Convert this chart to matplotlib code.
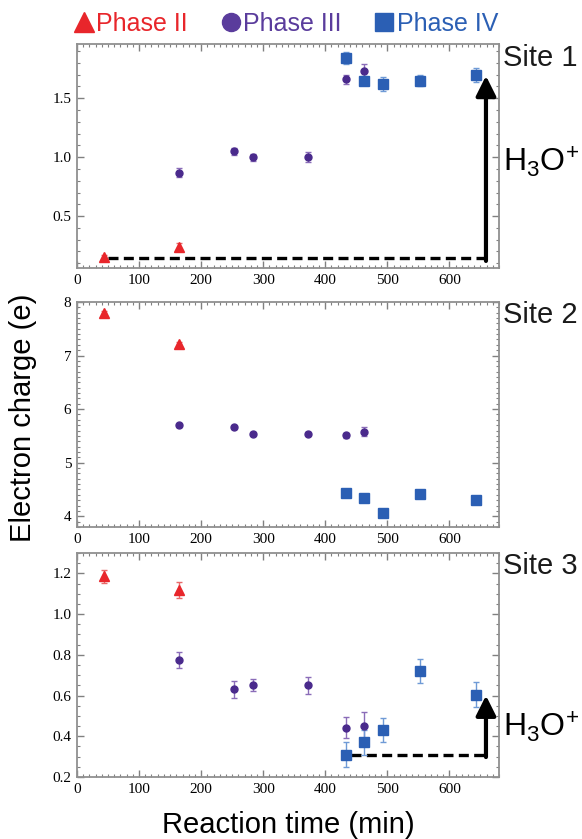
import matplotlib
matplotlib.use("Agg")
import matplotlib.pyplot as plt
from matplotlib.lines import Line2D
from matplotlib.ticker import MultipleLocator, FormatStrFormatter

plt.rcParams['font.family'] = ['Liberation Sans', 'DejaVu Sans']
plt.rcParams['mathtext.fontset'] = 'custom'
plt.rcParams['mathtext.rm'] = 'Liberation Sans'
plt.rcParams['mathtext.it'] = 'Liberation Sans:italic'

# ---- data ----
t_p2 = [44, 165]
t_p3 = [165, 253, 283, 373, 433, 463]
t_p4 = [433, 463, 493, 553, 643]

s1_p2 = [0.15, 0.24]
s1_p2_err = [0.02, 0.03]
s1_p3 = [0.87, 1.05, 1.00, 1.00, 1.66, 1.73]
s1_p3_err = [0.04, 0.03, 0.03, 0.04, 0.04, 0.06]
s1_p4 = [1.84, 1.65, 1.62, 1.65, 1.70]
s1_p4_err = [0.05, 0.04, 0.06, 0.05, 0.06]

s2_p2 = [7.80, 7.22]
s2_p2_err = [0.03, 0.03]
s2_p3 = [5.70, 5.66, 5.54, 5.54, 5.51, 5.58]
s2_p3_err = [0.03, 0.03, 0.03, 0.03, 0.04, 0.08]
s2_p4 = [4.44, 4.35, 4.07, 4.41, 4.31]
s2_p4_err = [0.03, 0.03, 0.03, 0.03, 0.03]

s3_p2 = [1.185, 1.12]
s3_p2_err = [0.03, 0.04]
s3_p3 = [0.775, 0.63, 0.65, 0.65, 0.443, 0.45]
s3_p3_err = [0.04, 0.04, 0.03, 0.04, 0.05, 0.07]
s3_p4 = [0.31, 0.37, 0.43, 0.72, 0.605]
s3_p4_err = [0.06, 0.06, 0.06, 0.06, 0.06]

site_labels = ["Site 1", "Site 2", "Site 3"]
phase_labels = ["Phase II", "Phase III", "Phase IV"]

RED = '#e8262b'
PUR = '#4a2a8c'
PUR_E = '#8a6cb8'
BLU = '#2b5fb4'
BLU_E = '#6f9ad6'
RED_E = '#e86a6a'

W, H = 582, 839
fig = plt.figure(figsize=(W / 100, H / 100), dpi=100)

boxes = [(44, 268), (302, 527), (553, 777)]
left, right = 77, 499
ylims = [(0.06, 1.96), (3.8, 8.0), (0.2, 1.3)]
ymaj = [0.5, 1.0, 0.2]
ymin = [0.1, 0.1, 0.05]
yfmt = ['%.1f', '%d', '%.1f']
site_y = [57.5, 315, 566]
data = [
    (s1_p2, s1_p2_err, s1_p3, s1_p3_err, s1_p4, s1_p4_err),
    (s2_p2, s2_p2_err, s2_p3, s2_p3_err, s2_p4, s2_p4_err),
    (s3_p2, s3_p2_err, s3_p3, s3_p3_err, s3_p4, s3_p4_err),
]

axes = []
for i, (top, bot) in enumerate(boxes):
    ax = fig.add_axes([left / W, 1 - bot / H, (right - left) / W, (bot - top) / H])
    axes.append(ax)
    p2, p2e, p3, p3e, p4, p4e = data[i]
    ax.errorbar(t_p2, p2, yerr=p2e, fmt='^', color=RED, ecolor=RED_E, ms=7,
                capsize=2.5, elinewidth=1, capthick=1, zorder=3)
    ax.errorbar(t_p3, p3, yerr=p3e, fmt='o', color=PUR, ecolor=PUR_E, ms=5,
                capsize=2.5, elinewidth=1, capthick=1, zorder=3)
    ax.errorbar(t_p4, p4, yerr=p4e, fmt='s', color=BLU, ecolor=BLU_E, ms=7,
                capsize=2.5, elinewidth=1, capthick=1, zorder=3)
    ax.set_xlim(0, 680)
    ax.set_ylim(*ylims[i])
    ax.xaxis.set_major_locator(MultipleLocator(100))
    ax.xaxis.set_minor_locator(MultipleLocator(10))
    ax.yaxis.set_major_locator(MultipleLocator(ymaj[i]))
    ax.yaxis.set_minor_locator(MultipleLocator(ymin[i]))
    ax.yaxis.set_major_formatter(FormatStrFormatter(yfmt[i]))
    ax.tick_params(which='both', direction='in', top=True, right=True, color='#808080')
    ax.tick_params(which='major', length=5, width=1)
    ax.tick_params(which='minor', length=2.5, width=0.8)
    ax.tick_params(labelsize=11, pad=4)
    for lab in ax.get_xticklabels() + ax.get_yticklabels():
        lab.set_fontfamily('Liberation Serif')
    for sp in ax.spines.values():
        sp.set_color('#909090')
        sp.set_linewidth(1.3)
    fig.text((right + 4) / W, 1 - site_y[i] / H, site_labels[i],
             fontsize=21, ha='left', va='center', color='#1a1a1a')

# arrows / dashed lines
x_arrow = 659
arrow_props = dict(arrowstyle='-|>,head_width=0.6,head_length=1.2', lw=3, color='black',
                   shrinkA=0, shrinkB=0)
ax = axes[0]
ax.plot([50, x_arrow], [s1_p2[0] - 0.005, s1_p2[0] - 0.005], ls=(0, (3, 1.6)), color='black', lw=2.4, zorder=2)
ax.annotate('', xy=(x_arrow, s1_p4[-1] - 0.01), xytext=(x_arrow, s1_p2[0] - 0.03),
            arrowprops=arrow_props, zorder=2)
fig.text((right + 4) / W, 1 - 162 / H, 'H$_3$O$^{\\!+}$', fontsize=23, ha='left', va='center')

ax = axes[2]
ax.plot([442, x_arrow], [s3_p4[0], s3_p4[0]], ls=(0, (3, 1.6)), color='black', lw=2.4, zorder=2)
ax.annotate('', xy=(x_arrow, s3_p4[-1] - 0.005), xytext=(x_arrow, s3_p4[0] - 0.012),
            arrowprops=arrow_props, zorder=2)
fig.text((right + 4) / W, 1 - 727 / H, 'H$_3$O$^{\\!+}$', fontsize=23, ha='left', va='center')

# legend
handles = [
    Line2D([], [], ls='none', marker='^', color=RED, ms=14.5),
    Line2D([], [], ls='none', marker='o', color='#5a3c9c', ms=13),
    Line2D([], [], ls='none', marker='s', color=BLU, ms=13),
]
leg = fig.legend(handles, phase_labels, loc='center', bbox_to_anchor=(286 / W, 1 - 24 / H), ncol=3,
                 frameon=False, fontsize=18, handlelength=0.8, handletextpad=0.1,
                 columnspacing=1.3, borderaxespad=0, borderpad=0)
for txt, c in zip(leg.get_texts(), [RED, '#5a3c9c', BLU]):
    txt.set_color(c)

fig.text(23 / W, 1 - 418 / H, 'Electron charge (e)', rotation=90, fontsize=21, ha='center', va='center')
fig.text((left + right) / 2 / W, 1 - 825 / H, 'Reaction time (min)', fontsize=21, ha='center', va='center')

fig.savefig('out.png', dpi=100)
